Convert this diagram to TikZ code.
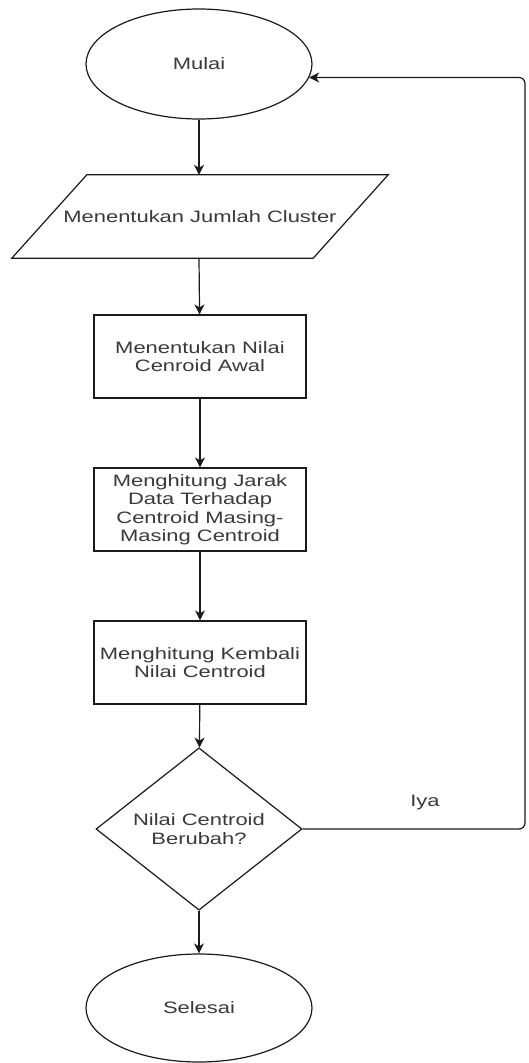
\documentclass[tikz,border=0pt]{standalone}
\usepackage{fontspec}
\setmainfont{Liberation Sans}[FakeStretch=1.33]
\usetikzlibrary{arrows.meta,shapes.geometric}
\definecolor{ink}{HTML}{1A1A1A}
\definecolor{label}{HTML}{3A3A3A}

\begin{document}
\begin{tikzpicture}[
 x=1pt,y=-1pt,
 txt/.style={font=\fontsize{16.5}{18.5}\selectfont,text=label,align=center},
 box/.style={txt,draw=ink,line width=1.2pt,fill=white,inner sep=0pt},
 term/.style={box,ellipse,minimum width=226,minimum height=110},
 io/.style={txt,rectangle,inner sep=0pt,minimum width=301,minimum height=83},
 proc/.style={box,rectangle,minimum width=212,minimum height=83},
 decide/.style={box,diamond,minimum width=206,minimum height=138},
 flow/.style={-{Stealth[length=10pt,width=10pt,inset=3pt]},draw=ink,line width=1.2pt}
]
\fill[white] (0,0) rectangle (528,1063);
\useasboundingbox (0,0) rectangle (528,1063);

% Flow from start to end.
\node[term] (mulai) at (199,64) {Mulai};
\node[io] (cluster) at (200,216.5) {Menentukan Jumlah Cluster};
\draw[draw=ink,line width=1.2pt,line join=miter]
  ([xshift=-37.5pt]cluster.south west) -- ([xshift=-37.5pt]cluster.south east)
  -- ([xshift=37.5pt]cluster.north east) -- ([xshift=37.5pt]cluster.north west) -- cycle;
\node[proc] (awal) at (200,356.5) {Menentukan Nilai\\Cenroid Awal};
\node[proc] (jarak) at (200,509.5) {Menghitung Jarak\\Data Terhadap\\Centroid Masing-\\Masing Centroid};
\node[proc] (kembali) at (200,662.5) {Menghitung Kembali\\Nilai Centroid};
\node[decide] (cek) at (199,829) {Nilai Centroid\\Berubah?};
\node[term,minimum height=108] (selesai) at (199,1008) {Selesai};

\draw[flow] (mulai) -- (mulai |- cluster.north);
\draw[flow] (mulai |- cluster.south) -- (awal);
\draw[flow] (awal) -- (jarak);
\draw[flow] (jarak) -- (kembali);
\draw[flow] (kembali) -- (cek);
\draw[flow] (cek) -- (selesai);

% Loop back while centroids still change.
\coordinate (balik) at (525,829);
\draw[flow,rounded corners=6] (cek.east) -- (balik) |- (mulai.-7);
\node[txt] (iya) at (425,803) {Iya};
\end{tikzpicture}
\end{document}
